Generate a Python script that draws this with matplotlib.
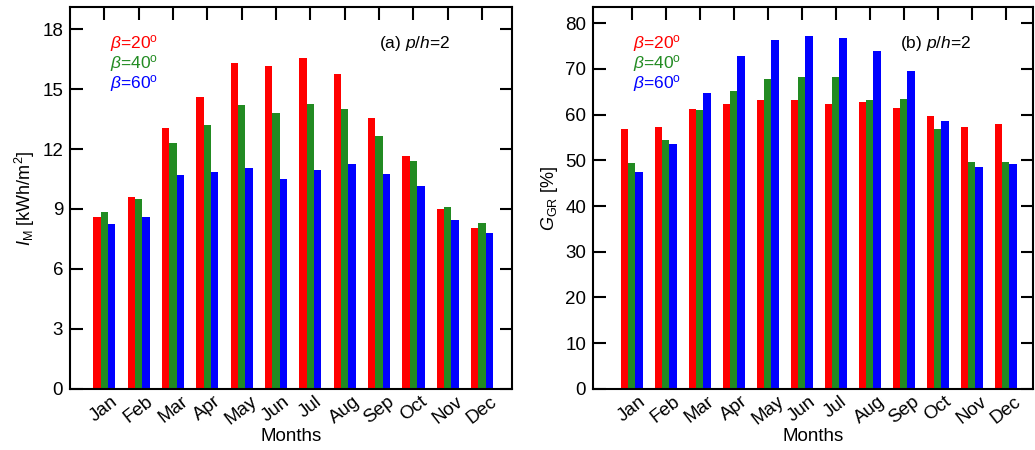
import numpy as np
import matplotlib.pyplot as plt

plt.rcParams['font.family'] = ['Liberation Sans', 'DejaVu Sans']
plt.rcParams['mathtext.fontset'] = 'custom'
plt.rcParams['mathtext.rm'] = 'Liberation Sans'
plt.rcParams['mathtext.it'] = 'Liberation Sans:italic'

months = ['Jan', 'Feb', 'Mar', 'Apr', 'May', 'Jun', 'Jul', 'Aug', 'Sep', 'Oct', 'Nov', 'Dec']

# (a) monthly irradiation I_M [kWh/m2]
im_20 = [8.60, 9.60, 13.05, 14.60, 16.30, 16.15, 16.55, 15.75, 13.57, 11.67, 9.02, 8.07]
im_40 = [8.83, 9.48, 12.30, 13.20, 14.20, 13.80, 14.25, 14.00, 12.65, 11.38, 9.10, 8.32]
im_60 = [8.23, 8.58, 10.70, 10.87, 11.03, 10.50, 10.95, 11.25, 10.75, 10.17, 8.45, 7.82]

# (b) G_GR [%]
g_20 = [56.9, 57.3, 61.1, 62.2, 63.1, 63.2, 62.2, 62.7, 61.5, 59.6, 57.3, 58.0]
g_40 = [49.5, 54.4, 60.9, 65.1, 67.7, 68.3, 68.2, 63.2, 63.3, 56.9, 49.6, 49.6]
g_60 = [47.5, 53.5, 64.8, 72.7, 76.3, 77.2, 76.7, 73.9, 69.5, 58.6, 48.5, 49.1]

labels = [r'$\beta$=20$^{\rm o}$', r'$\beta$=40$^{\rm o}$', r'$\beta$=60$^{\rm o}$']
colors = ['#ff0000', '#228b22', '#0000ff']

fig = plt.figure(figsize=(10.35, 4.5), dpi=100)
ax1 = fig.add_axes([0.0676, 0.1356, 0.4271, 0.8488])
ax2 = fig.add_axes([0.573, 0.1356, 0.425, 0.8488])

x = np.arange(1, 13)
w = 0.215


def panel(ax, series, ylim, yticks, ylabel, tag, xlim):
    for i, (vals, c) in enumerate(zip(series, colors)):
        ax.bar(x + (i - 1) * w, vals, width=w, color=c, zorder=2)
    ax.set_xlim(*xlim)
    ax.set_ylim(*ylim)
    ax.set_yticks(yticks)
    ax.set_xticks(x)
    ax.set_xticklabels(months, rotation=38, ha='center', fontsize=13)
    ax.tick_params(direction='in', top=True, right=True, length=9, width=1.5,
                   labelsize=13.5, pad=5)
    ax.tick_params(axis='x', pad=3)
    for s in ax.spines.values():
        s.set_linewidth(1.5)
    ax.set_ylabel(ylabel, fontsize=13, labelpad=4)
    ax.set_xlabel('Months', fontsize=13.5, labelpad=0)
    for j, (lab, c) in enumerate(zip(labels, colors)):
        ax.text(0.09, 0.905 - j * 0.052, lab, color=c, fontsize=12.5,
                transform=ax.transAxes, va='center', ha='left')
    ax.text(0.86, 0.905, tag, fontsize=12.5, transform=ax.transAxes,
            va='center', ha='right')


panel(ax1, [im_20, im_40, im_60], (0, 19.1), [0, 3, 6, 9, 12, 15, 18],
      r'$I_{\rm M}$ [kWh/m$^2$]', r'(a) $p$/$h$=2', (0.0, 12.87))
panel(ax2, [g_20, g_40, g_60], (0, 83.5), range(0, 81, 10),
      r'$G_{\rm GR}$ [%]', r'(b) $p$/$h$=2', (-0.14, 12.8))

fig.savefig('out.png', dpi=100)
